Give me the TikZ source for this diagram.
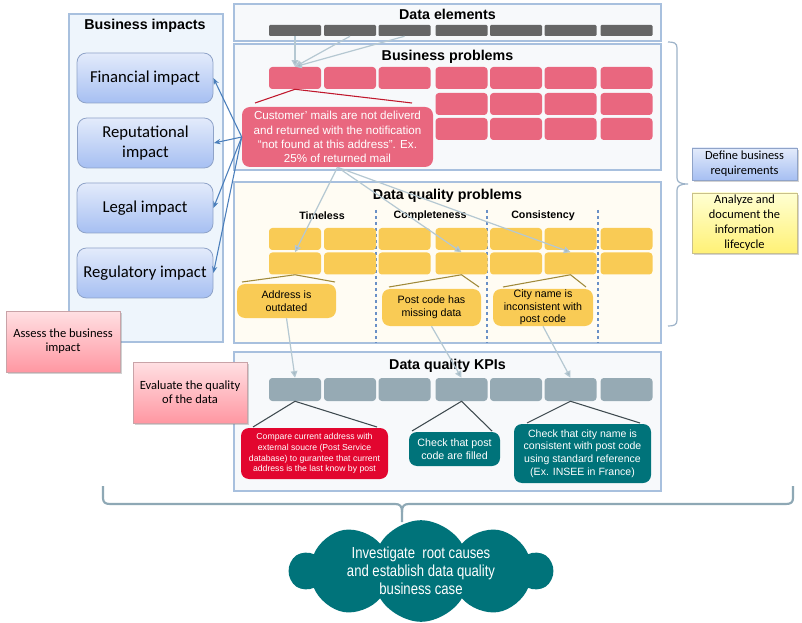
\documentclass[tikz,border=0pt]{standalone}
\usepackage{fontspec}
\setmainfont{Liberation Sans}
\newfontfamily\calibri{Carlito}
\newfontfamily\narrowfont[FakeStretch=0.82]{Liberation Sans}
\usetikzlibrary{shapes.symbols,shadows,arrows.meta}

\definecolor{panelborder}{HTML}{A8C0DE}
\definecolor{panelfill}{HTML}{F7F9FB}
\definecolor{impfill}{HTML}{EEF5FC}
\definecolor{dqfill}{HTML}{FFFCF3}
\definecolor{degray}{HTML}{666666}
\definecolor{bppink}{HTML}{E9677F}
\definecolor{dqyellow}{HTML}{F9CB55}
\definecolor{kpigray}{HTML}{96AAB4}
\definecolor{kpired}{HTML}{E2062F}
\definecolor{dqteal}{HTML}{00737A}
\definecolor{arrowblue}{HTML}{4A7EBB}
\definecolor{lightconn}{HTML}{B5C8D2}
\definecolor{lighttip}{HTML}{A3B8C4}
\definecolor{bpline}{HTML}{C0182D}
\definecolor{dqline}{HTML}{A08A3A}
\definecolor{kpiline}{HTML}{3F4B50}
\definecolor{bracecol}{HTML}{8EA8B5}
\definecolor{rbrace}{HTML}{9DB3C9}
\definecolor{dashcol}{HTML}{6A90C6}
\definecolor{impTop}{HTML}{E3EBFB}
\definecolor{impBot}{HTML}{A6BFF2}
\definecolor{impBorder}{HTML}{8FA3C8}
\definecolor{pinkTop}{HTML}{FFE0E3}
\definecolor{pinkBot}{HTML}{FF97A2}
\definecolor{pinkBorder}{HTML}{C9A3A8}
\definecolor{yelTop}{HTML}{FFFFD2}
\definecolor{yelBot}{HTML}{FFF176}
\definecolor{yelBorder}{HTML}{C9C08A}

\begin{document}
\begin{tikzpicture}[x=0.75pt,y=-0.75pt,
 sz/.style 2 args={minimum width=#1*0.75pt,minimum height=#2*0.75pt},
 panel/.style={draw=panelborder, line width=0.8pt, inner sep=0pt, outer sep=0pt, anchor=north west},
 ptitle/.style={font=\fontsize{10.7}{12}\selectfont\bfseries, inner sep=0pt},
 subtitle/.style={font=\fontsize{8}{9}\selectfont\bfseries, inner sep=0pt},
 debar/.style={fill=degray, sz={52}{11}, inner sep=0pt, rounded corners=0.8pt},
 bpbox/.style={fill=bppink, sz={52}{22}, inner sep=0pt, rounded corners=2.5pt},
 dqbox/.style={fill=dqyellow, sz={52}{22}, inner sep=0pt, rounded corners=2.5pt},
 kpibox/.style={fill=kpigray, sz={52}{23}, inner sep=0pt, rounded corners=2.5pt},
 impact/.style={draw=impBorder, line width=0.6pt, top color=impTop, bottom color=impBot, rounded corners=7pt, sz={136}{50}, align=center, font=\calibri\fontsize{12.5}{15.5}\selectfont, inner sep=0pt},
 stepred/.style={draw=pinkBorder, line width=0.5pt, top color=pinkTop, bottom color=pinkBot, sz={114}{61}, align=center, font=\calibri\fontsize{9.4}{10.5}\selectfont, inner sep=0pt, drop shadow={shadow xshift=1.3pt,shadow yshift=-1.3pt,opacity=0.35}},
 stepblue/.style={draw=impBorder, line width=0.5pt, top color=impTop, bottom color=impBot, align=center, font=\calibri\fontsize{9.3}{11.2}\selectfont, inner sep=0pt, drop shadow={shadow xshift=1.3pt,shadow yshift=-1.3pt,opacity=0.35}},
 stepyel/.style={draw=yelBorder, line width=0.5pt, top color=yelTop, bottom color=yelBot, align=center, font=\calibri\fontsize{9.3}{11.2}\selectfont, inner sep=0pt, drop shadow={shadow xshift=1.3pt,shadow yshift=-1.3pt,opacity=0.35}},
 callout/.style={rounded corners=6pt, inner sep=0pt, align=center},
 lightarrow/.style={draw=lightconn, line width=0.9pt, -{Triangle[width=5pt,length=5pt,fill=lighttip]}},
 bluearrow/.style={draw=arrowblue, line width=0.8pt, -{Stealth[width=4pt,length=5pt]}},
]
\fill[white] (0,0) rectangle (802,623);
\path[use as bounding box] (0,0) rectangle (802,623);

% panels
\node[panel, fill=impfill, sz={154}{328}] (imppanel) at (69,14) {};
\node[panel, fill=panelfill, sz={427}{37}] (depanel) at (234,4) {};
\node[panel, fill=panelfill, sz={427}{126}] (bppanel) at (234,44) {};
\node[panel, fill=dqfill, sz={427}{161}] (dqpanel) at (234,182) {};
\node[panel, fill=panelfill, sz={427}{139}] (kpipanel) at (234,352) {};

% titles
\node[ptitle] (t-imp) at (145,26) {Business impacts};
\node[ptitle] (t-de) at (447.5,14) {Data elements};
\node[ptitle] (t-bp) at (447.5,57) {Business problems};
\node[ptitle] (t-dq) at (447.5,196) {Data quality problems};
\node[ptitle] (t-kpi) at (447.5,366) {Data quality KPIs};

\node[subtitle] (s-time) at (322,216) {Timeless};
\node[subtitle] (s-comp) at (430,216) {Completeness};
\node[subtitle] (s-cons) at (543,216) {Consistency};

% dashed separators
\foreach \x in {376,487,598} {
  \draw[dashcol, line width=0.8pt, dash pattern=on 2.5pt off 2pt] (\x,210) -- (\x,343);
}

% small boxes
\foreach \i/\x in {1/295,2/350,3/404.5,4/461.5,5/516,6/570.5,7/626.5} {
  \node[debar] (de-\i) at (\x,30.5) {};
  \node[bpbox] (bp-1-\i) at (\x,78) {};
  \node[dqbox] (dq-1-\i) at (\x,239) {};
  \node[dqbox] (dq-2-\i) at (\x,263.5) {};
  \node[kpibox] (kpi-\i) at (\x,389.5) {};
}
\foreach \i/\x in {4/461.5,5/516,6/570.5,7/626.5} {
  \node[bpbox] (bp-2-\i) at (\x,104) {};
  \node[bpbox] (bp-3-\i) at (\x,129) {};
}

% impact boxes
\node[impact] (fin) at (145,78) {Financial impact};
\node[impact] (rep) at (145.5,143) {Reputational\\impact};
\node[impact] (legal) at (145,208) {Legal impact};
\node[impact] (reg) at (145,273) {Regulatory impact};

% step boxes
\node[stepred] (assess) at (63,341.5) {Assess the business\\impact};
\node[stepred] (evaluate) at (190,392.5) {Evaluate the quality\\of the data};
\node[stepblue, sz={105}{32}] (define) at (744.5,164) {Define business\\requirements};
\node[stepyel, sz={105}{60}] (analyze) at (744.5,223) {Analyze and\\document the\\information\\lifecycle};

% callout wedges
\draw[bpline, line width=0.8pt] (255,103) -- (bp-1-1.south) -- (412,103);
\draw[dqline, line width=0.8pt] (242,282) -- (dq-2-1.south) -- (335,282);
\draw[dqline, line width=0.8pt] (389,287) -- (dq-2-4.south) -- (479,287);
\draw[dqline, line width=0.8pt] (503,287) -- (dq-2-6.south) -- (586,287);
\draw[kpiline, line width=0.8pt] (253,427) -- (kpi-1.south) -- (377,427);
\draw[kpiline, line width=0.8pt] (412,431) -- (kpi-4.south) -- (492,431);
\draw[kpiline, line width=0.8pt] (527,423) -- (kpi-6.south) -- (640,423);

% callouts
\node[callout, fill=bppink, text=white, sz={191}{60}, font=\fontsize{8.7}{10.7}\selectfont] (bpcall) at (337.5,137)
  {Customer' mails are not deliverd\\and returned with the notification\\“not found at this address”. Ex.\\25\% of returned mail};
\node[callout, fill=dqyellow, sz={99}{34}, font=\fontsize{8}{9.5}\selectfont] (dqaddr) at (286.5,301) {Address is\\outdated};
\node[callout, fill=dqyellow, sz={99}{37}, font=\fontsize{8}{9.5}\selectfont] (dqpost) at (431.5,307.5) {Post code has\\missing data};
\node[callout, fill=dqyellow, sz={100}{37}, font=\fontsize{8}{9.4}\selectfont] (dqcity) at (543,307.5) {City name is\\inconsistent with\\post code};
\node[callout, fill=kpired, text=white, sz={147}{51}, font=\fontsize{6.5}{8}\selectfont] (kpicomp) at (314.5,453.5)
  {Compare current address with\\external soucre (Post Service\\database) to gurantee that current\\address is the last know by post};
\node[callout, fill=dqteal, text=white, sz={91}{34}, font=\fontsize{8}{9.5}\selectfont] (kpifill) at (454.5,449) {Check that post\\code are filled};
\node[callout, fill=dqteal, text=white, sz={137}{59}, font=\fontsize{7.9}{9.4}\selectfont] (kpicity) at (582.5,453.5)
  {Check that city name is\\consistent with post code\\using standard reference\\(Ex. INSEE in France)};

% connectors
\draw[lightarrow] (de-1.south) -- (bp-1-1.north);
\draw[lightarrow] (de-2.south) -- (bp-1-1.north);
\draw[lightarrow] (de-3.south) -- (bp-1-1.north);
\draw[lightarrow] (bpcall.south) -- (dq-2-1.north);
\draw[lightarrow] (bpcall.south) -- (dq-2-4.north);
\draw[lightarrow] (bpcall.south) -- (dq-2-6.north);
\draw[lightarrow] (dqaddr.south) -- (kpi-1.north);
\draw[lightarrow] (dqpost.south) -- (kpi-4.north);
\draw[lightarrow] (dqcity.south) -- (kpi-6.north);

\draw[bluearrow] (bpcall.west) -- (fin.east);
\draw[bluearrow] (bpcall.west) -- (rep.east);
\draw[bluearrow] (bpcall.west) -- (legal.east);
\draw[bluearrow] (bpcall.west) -- (reg.east);

% right brace
\draw[rbrace, line width=0.9pt] (668,42) .. controls (674,42) and (677,43) .. (677,48) -- (677,178)
  .. controls (677,182) and (680,184) .. (688,184)
  .. controls (680,184) and (677,186) .. (677,190) -- (677,320)
  .. controls (677,325) and (674,326) .. (668,326);

% bottom brace
\draw[bracecol, line width=1.6pt] (103,486) -- (103,498) .. controls (103,502) and (105,504) .. (110,504) -- (395,504)
  .. controls (400,504) and (402,506) .. (402,512) -- (402,522);
\draw[bracecol, line width=1.6pt] (402,512) .. controls (402,506) and (404,504) .. (409,504) -- (786,504)
  .. controls (791,504) and (793,502) .. (793,498) -- (793,486);

% cloud
\node[cloud, cloud puffs=10, cloud puff arc=120, cloud ignores aspect, fill=dqteal, sz={262}{94}, inner sep=0pt, text=white, align=center, font=\narrowfont\fontsize{12}{13.5}\selectfont] (rootcause) at (421,571)
  {Investigate~ root causes\\and establish data quality\\business case};
\end{tikzpicture}
\end{document}
